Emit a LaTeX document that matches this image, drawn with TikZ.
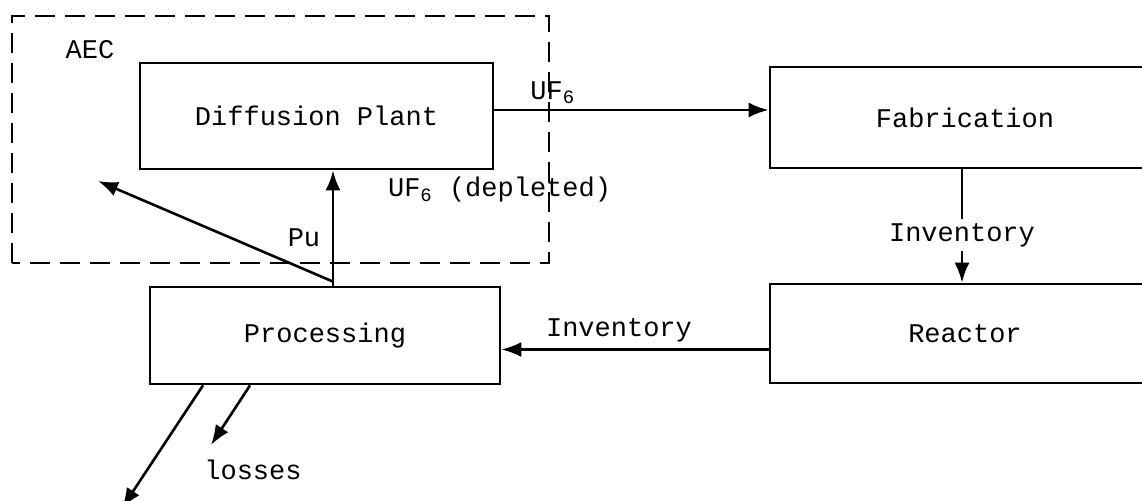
\documentclass[tikz,border=0pt]{standalone}
\usepackage{fontspec}
\setmonofont{Liberation Mono}
\usetikzlibrary{arrows.meta,positioning}

\begin{document}
\begin{tikzpicture}[x=0.5pt,y=0.5pt,
    box/.style={draw, line width=1.4pt, inner sep=0pt},
    flow/.style={line width=1.3pt, -{Latex[length=10pt,width=7.5pt]}},
    every node/.style={font=\ttfamily\fontsize{13.5}{15}\selectfont}]
    \useasboundingbox (0,0) rectangle (1142,500);
    \clip (0,0) rectangle (1142,500);

    % AEC boundary
    \draw[line width=1.2pt, dash pattern=on 10pt off 5pt] (12,237) rectangle (549,484);
    \node (aec) at (90,450) {AEC};

    % Plants
    \node[box, minimum width=176.5pt, minimum height=53pt] (diff) at (316.5,384) {Diffusion Plant};
    \node[box, minimum width=195pt, minimum height=50.5pt] (fab) at (965,382.5) {Fabrication};
    \node[box, minimum width=175pt, minimum height=48.5pt] (proc) at (325,164.5) {Processing};
    \node[box, minimum width=195pt, minimum height=49.5pt] (reac) at (965,166.5) {Reactor};

    % Enriched feed
    \draw[flow] ([yshift=3pt]diff.east) -- ([yshift=3pt]diff.east -| fab.west);
    \node[anchor=south west, inner sep=1pt] (uf) at (528,394) {UF\textsubscript{6}};

    % Fuel to reactor
    \draw[flow] ([xshift=-1.5pt]fab.south) -- node[fill=white, pos=0.58, inner sep=2pt] (inv1) {Inventory} ([xshift=-1.5pt]reac.north);

    % Spent fuel
    \draw[flow] ([yshift=-8pt]reac.west) -- node[pos=0.56, above, inner sep=3pt] (inv2) {Inventory} ([yshift=-8pt]reac.west -| proc.east);

    % Returns to AEC
    \coordinate (pu) at ([xshift=4pt]proc.north);
    \coordinate (puout) at ([yshift=2pt]pu);
    \coordinate (aecin) at (98,319);
    \draw[flow] (pu) -- (pu |- diff.south);
    \draw[flow] (puout) -- (aecin);
    \node[anchor=west] (dep) at (381,310) {UF\textsubscript{6} (depleted)};
    \node (pulab) at (304,262) {Pu};

    % Losses
    \coordinate (l1) at (122,-8);
    \coordinate (l2) at (211,55);
    \draw[flow] ([xshift=-61pt]proc.south) -- (l1);
    \draw[flow] ([xshift=-37.5pt]proc.south) -- (l2);
    \node (loss) at (253,30) {losses};
\end{tikzpicture}
\end{document}
